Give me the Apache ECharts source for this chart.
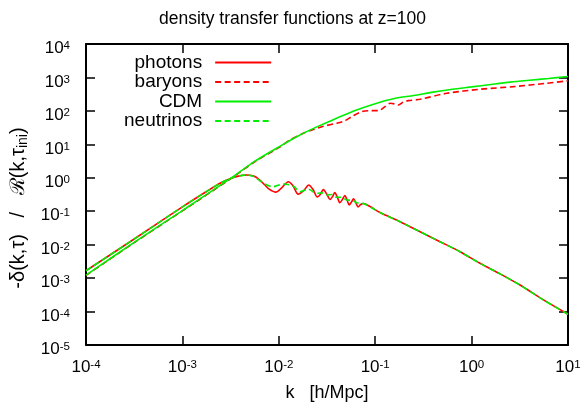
<!DOCTYPE html>
<html>
<head>
<meta charset="utf-8">
<script src="https://cdn.jsdelivr.net/npm/echarts@6/dist/echarts.min.js"></script>
<style>
html,body{margin:0;padding:0;background:#fff;}
#c{width:585px;height:406px;}
</style>
</head>
<body>
<div id="c"></div>
<script>
// Values, stored as [log10 k, log10 value]
const photons = [[-4.0,-2.78],[-3.5,-1.83],[-3.0,-0.87],[-2.75,-0.41],[-2.6,-0.15],[-2.5,-0.02],[-2.42,0.05],[-2.34,0.085],[-2.26,0.05],[-2.2,-0.06],[-2.15,-0.2],[-2.1,-0.34],[-2.03,-0.43],[-1.97,-0.3],[-1.9,-0.12],[-1.85,-0.25],[-1.8,-0.49],[-1.74,-0.38],[-1.69,-0.215],[-1.645,-0.35],[-1.6,-0.575],[-1.57,-0.5],[-1.538,-0.355],[-1.5,-0.5],[-1.469,-0.65],[-1.44,-0.55],[-1.42,-0.445],[-1.39,-0.6],[-1.368,-0.745],[-1.34,-0.65],[-1.315,-0.53],[-1.29,-0.68],[-1.27,-0.81],[-1.245,-0.72],[-1.225,-0.63],[-1.2,-0.75],[-1.178,-0.87],[-1.15,-0.8],[-1.124,-0.77],[-1.054,-0.86],[-0.95,-1.04],[-0.743,-1.313],[-0.535,-1.612],[-0.328,-1.911],[-0.12,-2.21],[0.087,-2.557],[0.3,-2.88],[0.502,-3.206],[0.75,-3.66],[1.0,-4.08]];
const baryons = [[-4.0,-2.92],[-3.5,-1.94],[-3.0,-0.99],[-2.5,-0.03],[-2.25,0.48],[-2.0,0.9],[-1.884,1.13],[-1.746,1.33],[-1.642,1.44],[-1.538,1.54],[-1.4,1.63],[-1.313,1.708],[-1.244,1.827],[-1.14,1.977],[-1.054,2.007],[-0.968,2.007],[-0.898,2.127],[-0.846,2.227],[-0.795,2.207],[-0.76,2.177],[-0.708,2.267],[-0.657,2.307],[-0.535,2.347],[-0.258,2.526],[0.087,2.646],[0.433,2.725],[0.779,2.826],[1.0,2.9]];
const cdm = [[-4.0,-2.91],[-3.5,-1.93],[-3.0,-0.98],[-2.5,-0.02],[-2.25,0.49],[-2.0,0.92],[-1.8,1.25],[-1.6,1.53],[-1.4,1.78],[-1.2,2.02],[-1.0,2.216],[-0.8,2.37],[-0.6,2.46],[-0.4,2.56],[-0.2,2.645],[0.0,2.717],[0.2,2.79],[0.4,2.86],[0.6,2.917],[0.8,2.97],[1.0,3.03]];
const neutrinos = [[-4.0,-2.78],[-3.5,-1.83],[-3.0,-0.87],[-2.75,-0.41],[-2.6,-0.15],[-2.5,-0.02],[-2.42,0.05],[-2.34,0.08],[-2.26,0.04],[-2.16,-0.164],[-2.06,-0.266],[-1.953,-0.185],[-1.85,-0.245],[-1.78,-0.416],[-1.694,-0.344],[-1.607,-0.464],[-1.55,-0.45],[-1.503,-0.514],[-1.45,-0.5],[-1.4,-0.583],[-1.35,-0.58],[-1.296,-0.664],[-1.24,-0.67],[-1.192,-0.745],[-1.14,-0.76],[-1.088,-0.813],[-0.95,-1.04],[-0.743,-1.313],[-0.535,-1.612],[-0.328,-1.911],[-0.12,-2.21],[0.087,-2.557],[0.3,-2.88],[0.502,-3.206],[0.75,-3.66],[1.0,-4.08]];

const seriesNames = ['photons','baryons','CDM','neutrinos'];
const xMajorTicks = [1e-4, 1e-3, 1e-2, 1e-1, 1, 10];
const yMajorTicks = [1e-5, 1e-4, 1e-3, 1e-2, 1e-1, 1, 10, 100, 1000, 10000];
const titleText = 'density transfer functions at z=100';
const xTitle = 'k   [h/Mpc]';

const toData = arr => arr.map(p => [Math.pow(10, p[0]), Math.pow(10, p[1])]);
const X0 = xMajorTicks[0], X1 = xMajorTicks[xMajorTicks.length - 1];
const Y0 = yMajorTicks[0], Y1 = yMajorTicks[yMajorTicks.length - 1];

const FONT = '"Liberation Sans", Arial, Helvetica, sans-serif';
const labelRich = {
  b: { fontSize: 17, lineHeight: 17, padding: [3.5, 0, 0, 0], verticalAlign: 'bottom', color: '#000', fontFamily: FONT },
  s: { fontSize: 11.5, lineHeight: 12, verticalAlign: 'top', color: '#000', fontFamily: FONT }
};
const fmt = v => '{b|10}{s|' + Math.round(Math.log10(v)) + '}';
const lineS = { color: '#000', width: 2 };
const tickS = { color: '#000', width: 1.5 };

const baseX = { type: 'log', logBase: 10, min: X0, max: X1, interval: 1, splitLine: { show: false }, minorTick: { show: false } };
const baseY = { type: 'log', logBase: 10, min: Y0, max: Y1, interval: 1, splitLine: { show: false }, minorTick: { show: false } };

const RED = '#ff0000', GREEN = '#00ee00';
function mkSeries(name, arr, color, dashed) {
  return { name, type: 'line', data: toData(arr), xAxisIndex: 0, yAxisIndex: 0,
    symbol: 'none', showSymbol: false, smooth: 0.3, clip: true,
    lineStyle: { color, width: 1.6, type: dashed ? [6, 3.5] : 'solid' },
    itemStyle: { color }, emphasis: { disabled: true } };
}

const chart = echarts.init(document.getElementById('c'), null, { renderer: 'canvas' });
chart.setOption({
  animation: false,
  backgroundColor: '#fff',
  textStyle: { fontFamily: FONT },
  title: { text: titleText, left: 'center', top: 5, textStyle: { fontSize: 17.5, fontWeight: 'normal', color: '#000', fontFamily: FONT } },
  grid: { left: 86, right: 17, top: 44, bottom: 61, containLabel: false },
  legend: {
    data: seriesNames, orient: 'vertical', left: 124, top: 53, padding: 0, align: 'right',
    itemWidth: 56, itemHeight: 14, itemGap: 0.5, selectedMode: false,
    itemStyle: { opacity: 0 },
    textStyle: { fontSize: 19, color: '#000', fontFamily: FONT, width: 100, align: 'right', padding: [0, 8, 0, 0] }
  },
  xAxis: [
    Object.assign({}, baseX, { position: 'bottom', axisLine: { show: true, lineStyle: lineS },
      axisTick: { show: true, inside: true, length: 9, lineStyle: tickS },
      axisLabel: { show: true, margin: 14, formatter: fmt, rich: labelRich } }),
    Object.assign({}, baseX, { position: 'top', axisLine: { show: true, lineStyle: lineS },
      axisTick: { show: true, inside: true, length: 9, lineStyle: tickS }, axisLabel: { show: false } })
  ],
  yAxis: [
    Object.assign({}, baseY, { position: 'left', axisLine: { show: true, lineStyle: lineS },
      axisTick: { show: true, inside: true, length: 9, lineStyle: tickS },
      axisLabel: { show: true, margin: 16, padding: [9, 0, 0, 0], formatter: fmt, rich: labelRich } }),
    Object.assign({}, baseY, { position: 'right', axisLine: { show: true, lineStyle: lineS },
      axisTick: { show: true, inside: true, length: 9, lineStyle: tickS }, axisLabel: { show: false } })
  ],
  series: [
    mkSeries('photons', photons, RED, false),
    mkSeries('baryons', baryons, RED, true),
    mkSeries('CDM', cdm, GREEN, false),
    mkSeries('neutrinos', neutrinos, GREEN, true)
  ],
  graphic: [
    { type: 'text', x: 327, y: 393, style: { text: xTitle, align: 'center', verticalAlign: 'middle', fontSize: 18, fill: '#000', fontFamily: FONT } },
    { type: 'text', x: 18, y: 208, rotation: Math.PI / 2,
      style: { text: '{m|-δ(k,τ)   /   ℛ(k,τ}{sub|ini}{m|)}', align: 'center', verticalAlign: 'middle',
        rich: { m: { fontSize: 20, lineHeight: 24, verticalAlign: 'middle', fill: '#000', fontFamily: FONT },
                sub: { fontSize: 14, lineHeight: 14, verticalAlign: 'bottom', fill: '#000', fontFamily: FONT } } } }
  ]
});
</script>
</body>
</html>
